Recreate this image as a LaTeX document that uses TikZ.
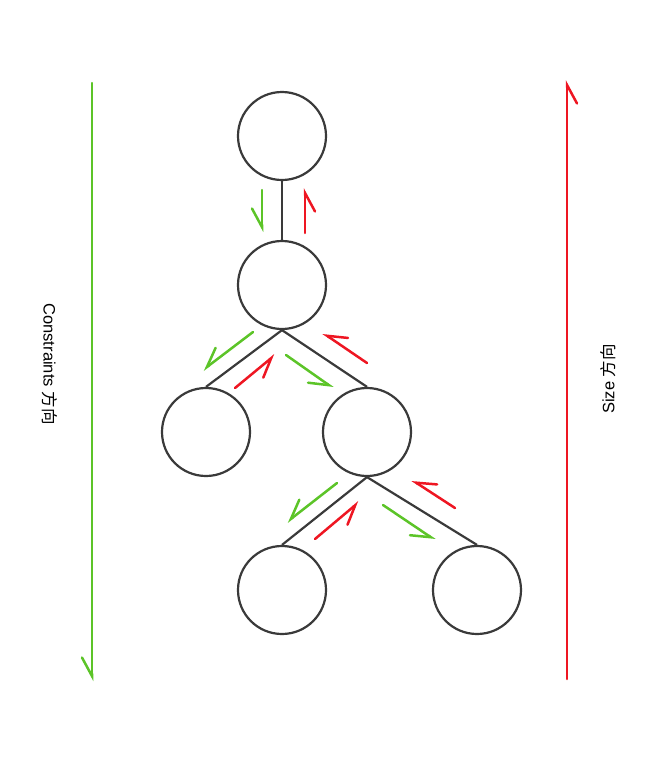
\documentclass[tikz,border=0pt]{standalone}
\usepackage{fontspec}
\setmainfont{Liberation Sans}
\newfontfamily\cjk{Noto Sans CJK SC}
\usetikzlibrary{arrows.meta}
\definecolor{cgreen}{RGB}{92,196,40}
\definecolor{cred}{RGB}{238,22,34}
\definecolor{cdark}{RGB}{58,58,58}
\tikzset{
  treenode/.style={circle, draw=cdark, line width=2.2pt, minimum size=88pt, inner sep=0pt},
  treeedge/.style={draw=cdark, line width=2.2pt},
  harp/.style={line width=2.5pt, line cap=round, -{Straight Barb[harpoon,swap,length=18.5pt,width=20pt,line cap=round]}},
  garrow/.style={harp, cgreen},
  rarrow/.style={harp, cred},
  lbl/.style={font=\fontsize{16.5}{18}\selectfont, inner sep=0pt}
}
\begin{document}
\begin{tikzpicture}[x=1pt,y=-1pt]
\useasboundingbox (0,0) rectangle (658,782);
% nodes
\node[treenode] (A) at (282,136) {};
\node[treenode] (B) at (282,285) {};
\node[treenode] (C) at (206,432) {};
\node[treenode] (D) at (367,432) {};
\node[treenode] (E) at (282,590) {};
\node[treenode] (F) at (477,590) {};
% edges
\draw[treeedge] (A.south) -- (B.north);
\draw[treeedge] (B.south) -- (C.north);
\draw[treeedge] (B.south) -- (D.north);
\draw[treeedge] (D.south) -- (E.north);
\draw[treeedge] (D.south) -- (F.north);
% arrow end points
\coordinate (ab1) at (262,190); \coordinate (ab2) at (262,232);
\coordinate (ab3) at (305,233); \coordinate (ab4) at (305,188);
\coordinate (bc1) at (253,332); \coordinate (bc2) at (203,370);
\coordinate (bc3) at (235,388); \coordinate (bc4) at (275,355);
\coordinate (bd1) at (286,355); \coordinate (bd2) at (333,388);
\coordinate (bd3) at (367,363); \coordinate (bd4) at (323,333);
\coordinate (de1) at (337,483); \coordinate (de2) at (287,522);
\coordinate (de3) at (315,539); \coordinate (de4) at (359,502);
\coordinate (df1) at (383,505); \coordinate (df2) at (435,540);
\coordinate (df3) at (455,508); \coordinate (df4) at (412,480);
\coordinate (gl1) at (92,83);  \coordinate (gl2) at (92,681);
\coordinate (rl1) at (567,679); \coordinate (rl2) at (567,80);
% flow arrows
\draw[garrow] (ab1) -- (ab2);
\draw[rarrow] (ab3) -- (ab4);
\draw[garrow] (bc1) -- (bc2);
\draw[rarrow] (bc3) -- (bc4);
\draw[garrow] (bd1) -- (bd2);
\draw[rarrow] (bd3) -- (bd4);
\draw[garrow] (de1) -- (de2);
\draw[rarrow] (de3) -- (de4);
\draw[garrow] (df1) -- (df2);
\draw[rarrow] (df3) -- (df4);
% long direction arrows
\draw[garrow] (gl1) -- (gl2);
\draw[rarrow] (rl1) -- (rl2);
% labels
\node[lbl, rotate=-90] (cl) at (50,364) {Constraints {\cjk 方向}};
\node[lbl, rotate=90] (sl) at (608,379) {Size {\cjk 方向}};
\end{tikzpicture}
\end{document}
